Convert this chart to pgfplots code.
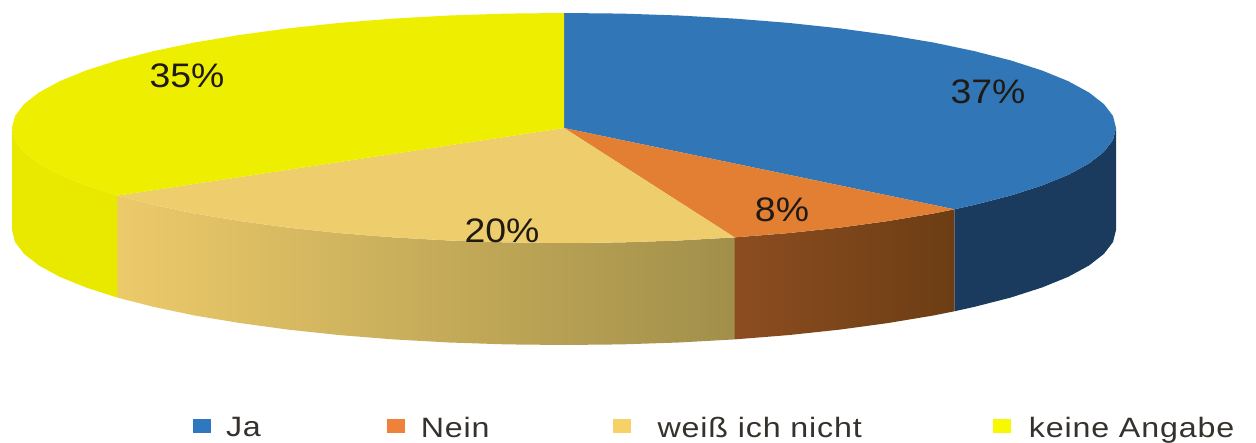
\documentclass[border=0pt]{standalone}
\usepackage{fontspec}
\setmainfont{Liberation Sans}
\newfontfamily\legfont[FakeStretch=1.15,LetterSpace=3]{Liberation Sans}
\newfontfamily\lblfont[FakeStretch=1.1]{Liberation Sans}
\usepackage{pgfplots}
\pgfplotsset{compat=1.18}
\definecolor{cBlue}{HTML}{3176B6}
\definecolor{cOrange}{HTML}{E37F33}
\definecolor{cTan}{HTML}{EDCD6C}
\definecolor{cYellow}{HTML}{EEEE00}
\definecolor{sBlue}{HTML}{1A3A5E}
\definecolor{sYellow}{HTML}{E9E900}
\definecolor{sOrA}{HTML}{8C4D20}
\definecolor{sOrB}{HTML}{6C3D14}
\definecolor{sTanA}{HTML}{ECCA6A}
\definecolor{sTanB}{HTML}{A18F4A}
\definecolor{lBlue}{HTML}{2F78C0}
\definecolor{lOrange}{HTML}{F0813A}
\definecolor{lTan}{HTML}{F6D266}
\definecolor{lYellow}{HTML}{F8F800}
\definecolor{txt}{HTML}{1F1A14}
\pgfplotsset{
  sq/.style={legend image code/.code={\fill[#1] (0pt,-5pt) rectangle (18pt,9pt);}}
}
\begin{document}
\begin{tikzpicture}
\begin{axis}[
  scale only axis, width=1256pt, height=443pt,
  xmin=0, xmax=1256, ymin=0, ymax=443, y dir=reverse,
  hide axis, clip=false,
  legend columns=4,
  legend cell align=left,
  legend style={
    at={(axis cs:193,428)}, anchor=west, draw=none, fill=none,
    inner sep=0pt, outer sep=0pt,
    font=\fontsize{28}{32}\selectfont\legfont\color{txt!90},
    nodes={inner sep=0pt, outer sep=0pt},
    /tikz/column 1/.style={column sep=15pt},
    /tikz/column 2/.style={column sep=126pt},
    /tikz/column 3/.style={column sep=16pt},
    /tikz/column 4/.style={column sep=123pt},
    /tikz/column 5/.style={column sep=27pt},
    /tikz/column 6/.style={column sep=131pt},
    /tikz/column 7/.style={column sep=18pt},
  },
]
\path (rel axis cs:0,0) rectangle (rel axis cs:1,1);
% side walls
\addplot[forget plot, draw=none, fill=sBlue] coordinates {
 (1116,128)(1113,140)(1103.9,151.9)(1089,163.5)(1068.3,174.8)(1042,185.5)(1010.6,195.6)(974.2,204.9)(954.3,209.3)
 (954.3,311.3)(974.2,306.9)(1010.6,297.6)(1042,287.5)(1068.3,276.8)(1089,265.5)(1103.9,253.9)(1113,242)(1116,230)} -- cycle;
\addplot[forget plot, draw=none, left color=sOrA, right color=sOrB] coordinates {
 (954.3,209.3)(933.4,213.5)(888.5,221)(840,227.6)(788.5,233.1)(734.6,237.4)
 (734.6,339.4)(788.5,335.1)(840,329.6)(888.5,323)(933.4,315.5)(954.3,311.3)} -- cycle;
\addplot[forget plot, draw=none, left color=sTanA, right color=sTanB] coordinates {
 (734.6,237.4)(678.8,240.5)(621.7,242.4)(564,243)(506.3,242.4)(449.2,240.5)(393.4,237.4)(339.5,233.1)(288,227.6)(239.5,221)(194.6,213.5)(153.8,204.9)(117.4,195.6)
 (117.4,297.6)(153.8,306.9)(194.6,315.5)(239.5,323)(288,329.6)(339.5,335.1)(393.4,339.4)(449.2,342.5)(506.3,344.4)(564,345)(621.7,344.4)(678.8,342.5)(734.6,339.4)} -- cycle;
\addplot[forget plot, draw=none, fill=sYellow] coordinates {
 (117.4,195.6)(86,185.5)(59.7,174.8)(39,163.5)(24.1,151.9)(15,140)(12,128)
 (12,230)(15,242)(24.1,253.9)(39,265.5)(59.7,276.8)(86,287.5)(117.4,297.6)} -- cycle;
% top slices
\addplot[sq=lBlue, draw=none, fill=cBlue] coordinates {
 (564,128)(564,13)(621.7,13.6)(678.8,15.5)(734.6,18.6)(788.5,22.9)(840,28.4)(888.5,35)(933.4,42.5)(974.2,51.1)(1010.6,60.4)(1042,70.5)(1068.3,81.2)(1089,92.5)(1103.9,104.1)(1113,116)
 (1116,128)(1113,140)(1103.9,151.9)(1089,163.5)(1068.3,174.8)(1042,185.5)(1010.6,195.6)(974.2,204.9)(954.3,209.3)} -- cycle;
\addlegendentry{Ja}
\addplot[sq=lOrange, draw=none, fill=cOrange] coordinates {
 (564,128)(954.3,209.3)(933.4,213.5)(888.5,221)(840,227.6)(788.5,233.1)(734.6,237.4)} -- cycle;
\addlegendentry{Nein}
\addplot[sq=lTan, draw=none, fill=cTan] coordinates {
 (564,128)(734.6,237.4)(678.8,240.5)(621.7,242.4)(564,243)(506.3,242.4)(449.2,240.5)(393.4,237.4)(339.5,233.1)(288,227.6)(239.5,221)(194.6,213.5)(153.8,204.9)(117.4,195.6)} -- cycle;
\addlegendentry{weiß ich nicht}
\addplot[sq=lYellow, draw=none, fill=cYellow] coordinates {
 (564,128)(117.4,195.6)(86,185.5)(59.7,174.8)(39,163.5)(24.1,151.9)(15,140)(12,128)(15,116)(24.1,104.1)(39,92.5)(59.7,81.2)(86,70.5)(117.4,60.4)(153.8,51.1)(194.6,42.5)(239.5,35)(288,28.4)(339.5,22.9)(393.4,18.6)(449.2,15.5)(506.3,13.6)(564,13)} -- cycle;
\addlegendentry{keine Angabe}
% value labels
\node[font=\fontsize{34}{38}\selectfont\lblfont, text=txt] at (axis cs:187,76) {35\%};
\node[font=\fontsize{34}{38}\selectfont\lblfont, text=txt] at (axis cs:988,92) {37\%};
\node[font=\fontsize{34}{38}\selectfont\lblfont, text=txt] at (axis cs:782,210) {8\%};
\node[font=\fontsize{34}{38}\selectfont\lblfont, text=txt] at (axis cs:502,231) {20\%};
\end{axis}
\end{tikzpicture}
\end{document}
